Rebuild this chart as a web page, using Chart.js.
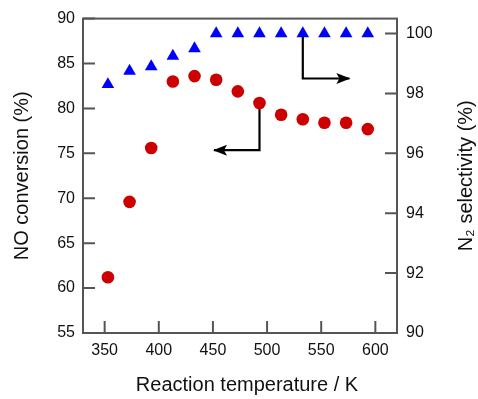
<!DOCTYPE html>
<html>
<head>
<meta charset="utf-8">
<script src="https://cdn.jsdelivr.net/npm/chart.js@4.4.1/dist/chart.umd.min.js"></script>
<style>
  html, body { margin: 0; padding: 0; background: #ffffff; }
  #wrap { width: 478px; height: 399px; }
</style>
</head>
<body>
<div id="wrap"><canvas id="c" width="478" height="399"></canvas></div>
<script>
// ---- data ----
const temperatures = [353, 373, 393, 413, 433, 453, 473, 493, 513, 533, 553, 573, 593];
const noConversion = [61.2, 69.6, 75.6, 83.0, 83.6, 83.2, 81.9, 80.6, 79.3, 78.8, 78.4, 78.4, 77.7];
const n2Selectivity = [98.3, 98.75, 98.9, 99.25, 99.5, 100, 100, 100, 100, 100, 100, 100, 100];

const xTicks = [350, 400, 450, 500, 550, 600];
const yLeftTicks = [55, 60, 65, 70, 75, 80, 85, 90];
const yRightTicks = [90, 92, 94, 96, 98, 100];

// arrows (data coordinates): left arrow on the NO-conversion axis, right arrow on the N2-selectivity axis
const arrowLeftX = [493, 493, 451];
const arrowLeftY = [80.6, 75.35, 75.35];
const arrowRightX = [533, 533, 576];
const arrowRightY = [100, 98.5, 98.5];

const xTitle = 'Reaction temperature / K';
const yLeftTitle = 'NO conversion (%)';
const yRightTitle = 'N\u2082 selectivity (%)';

// ---- helpers ----
const toPts = (xs, ys) => xs.map((x, i) => ({ x: x, y: ys[i] }));

const FONT = "'Liberation Sans', Arial, sans-serif";
const AXIS_COLOR = '#555555';
const TEXT_COLOR = '#111111';

const frameAndTicks = {
  id: 'frameAndTicks',
  afterDraw(chart) {
    const ctx = chart.ctx;
    const a = chart.chartArea;
    const len = 12;
    ctx.save();
    ctx.strokeStyle = AXIS_COLOR;
    ctx.lineWidth = 2;
    ctx.strokeRect(a.left, a.top, a.right - a.left, a.bottom - a.top);
    ctx.beginPath();
    const xs = chart.scales.x;
    xs.ticks.forEach(t => {
      const px = xs.getPixelForValue(t.value);
      ctx.moveTo(px, a.bottom);
      ctx.lineTo(px, a.bottom - len);
    });
    const yl = chart.scales.y;
    yl.ticks.forEach(t => {
      const py = yl.getPixelForValue(t.value);
      ctx.moveTo(a.left, py);
      ctx.lineTo(a.left + len, py);
    });
    const yr = chart.scales.y1;
    yr.ticks.forEach(t => {
      const py = yr.getPixelForValue(t.value);
      ctx.moveTo(a.right, py);
      ctx.lineTo(a.right - len, py);
    });
    ctx.stroke();

    // axis titles (right one reads bottom-to-top like the left one)
    ctx.fillStyle = TEXT_COLOR;
    ctx.font = '20px ' + FONT;
    ctx.textAlign = 'center';
    ctx.textBaseline = 'middle';
    ctx.fillText(xTitle, (a.left + a.right) / 2 + 7, 385);
    ctx.save();
    ctx.translate(466, (a.top + a.bottom) / 2);
    ctx.rotate(-Math.PI / 2);
    ctx.fillText(yRightTitle, 0, 0);
    ctx.restore();
    ctx.restore();
  }
};

const arrowHeads = {
  id: 'arrowHeads',
  afterDatasetsDraw(chart) {
    const ctx = chart.ctx;
    chart.data.datasets.forEach((ds, i) => {
      if (!ds.isArrow) return;
      const pts = chart.getDatasetMeta(i).data;
      const n = pts.length;
      const p1 = pts[n - 2], p2 = pts[n - 1];
      const ang = Math.atan2(p2.y - p1.y, p2.x - p1.x);
      const L = 13, W = 5.5;
      ctx.save();
      ctx.fillStyle = '#000000';
      ctx.translate(p2.x, p2.y);
      ctx.rotate(ang);
      ctx.beginPath();
      ctx.moveTo(1, 0);
      ctx.lineTo(-L, -W);
      ctx.lineTo(-L + 3, 0);
      ctx.lineTo(-L, W);
      ctx.closePath();
      ctx.fill();
      ctx.restore();
    });
  }
};

const setTicks = (arr) => (scale) => { scale.ticks = arr.map(v => ({ value: v })); };

new Chart(document.getElementById('c'), {
  type: 'scatter',
  data: {
    datasets: [
      {
        label: 'arrowLeft',
        isArrow: true,
        data: toPts(arrowLeftX, arrowLeftY),
        yAxisID: 'y',
        showLine: true,
        borderColor: '#000000',
        borderWidth: 2.2,
        pointRadius: 0,
        pointHoverRadius: 0,
        order: 3
      },
      {
        label: 'arrowRight',
        isArrow: true,
        data: toPts(arrowRightX, arrowRightY),
        yAxisID: 'y1',
        showLine: true,
        borderColor: '#000000',
        borderWidth: 2.2,
        pointRadius: 0,
        pointHoverRadius: 0,
        order: 3
      },
      {
        label: 'NO conversion',
        data: toPts(temperatures, noConversion),
        yAxisID: 'y',
        pointStyle: 'circle',
        pointRadius: 6.3,
        backgroundColor: 'rgb(204,0,0)',
        borderColor: 'rgb(204,0,0)',
        borderWidth: 0,
        order: 1
      },
      {
        label: 'N2 selectivity',
        data: toPts(temperatures, n2Selectivity),
        yAxisID: 'y1',
        pointStyle: 'triangle',
        pointRadius: 7.3,
        backgroundColor: 'rgb(0,0,255)',
        borderColor: 'rgb(0,0,255)',
        borderWidth: 0,
        order: 1
      }
    ]
  },
  options: {
    responsive: false,
    animation: false,
    events: [],
    layout: { padding: { top: 18, left: 0, right: 0, bottom: 0 } },
    plugins: {
      legend: { display: false },
      tooltip: { enabled: false }
    },
    scales: {
      x: {
        type: 'linear',
        position: 'bottom',
        min: 330,
        max: 620,
        afterBuildTicks: setTicks(xTicks),
        afterFit: (s) => { s.height = 66; },
        grid: { display: false, drawTicks: false },
        border: { display: false },
        ticks: { color: TEXT_COLOR, padding: 8, font: { family: FONT, size: 16 }, maxRotation: 0 },
        title: { display: false }
      },
      y: {
        type: 'linear',
        position: 'left',
        min: 55,
        max: 90,
        afterBuildTicks: setTicks(yLeftTicks),
        afterFit: (s) => { s.width = 83; },
        grid: { display: false, drawTicks: false },
        border: { display: false },
        ticks: { color: TEXT_COLOR, padding: 8, font: { family: FONT, size: 16 } },
        title: { display: true, text: yLeftTitle, color: TEXT_COLOR, font: { family: FONT, size: 20 }, padding: { top: 10, bottom: 0 } }
      },
      y1: {
        type: 'linear',
        position: 'right',
        min: 90,
        max: 100.5,
        afterBuildTicks: setTicks(yRightTicks),
        afterFit: (s) => { s.width = 81; },
        grid: { display: false, drawTicks: false },
        border: { display: false },
        ticks: { color: TEXT_COLOR, padding: 9, font: { family: FONT, size: 16 } },
        title: { display: false }
      }
    }
  },
  plugins: [frameAndTicks, arrowHeads]
});
</script>
</body>
</html>
